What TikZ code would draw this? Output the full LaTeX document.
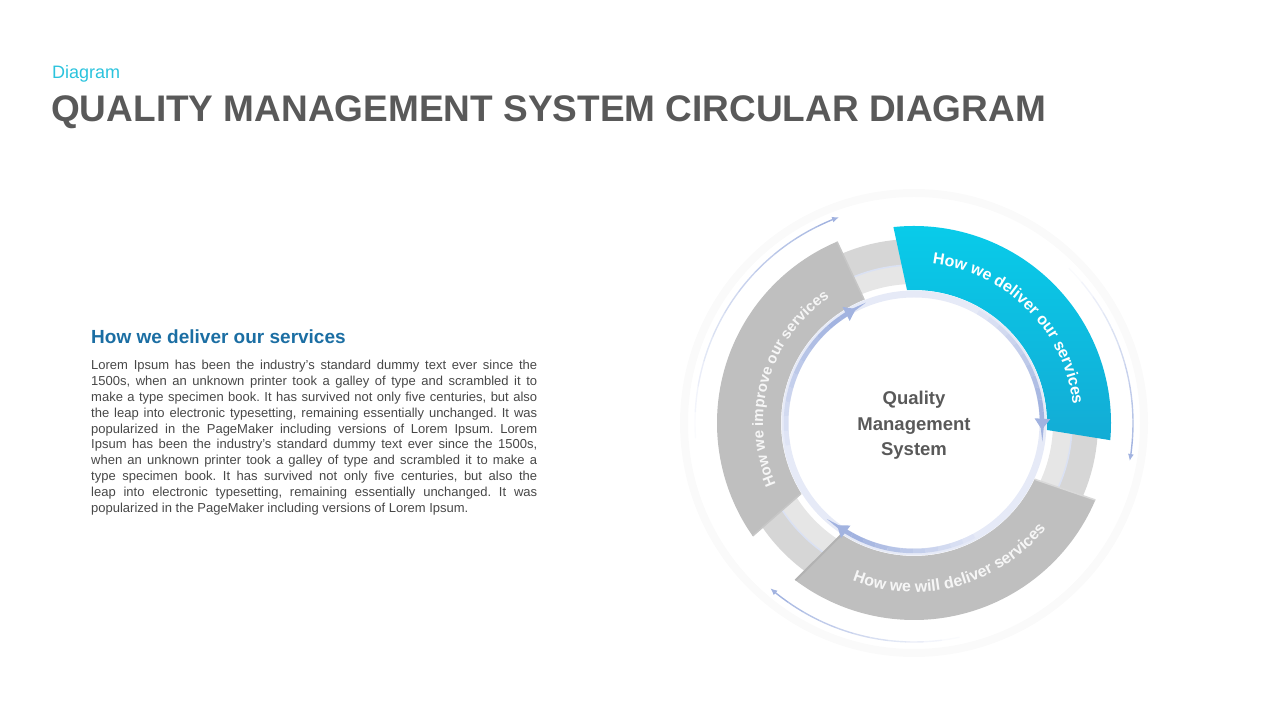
\documentclass[tikz,border=0pt]{standalone}
\usepackage{fontspec}
\setmainfont{Liberation Sans}
\usepackage{tikz}
\usetikzlibrary{arrows.meta,decorations,decorations.text,calc}

\definecolor{titlegray}{HTML}{595959}
\definecolor{subcyan}{HTML}{2BC3DD}
\definecolor{headblue}{HTML}{1B6EA3}
\definecolor{bodygray}{HTML}{474747}
\definecolor{cyantop}{HTML}{08CCEA}
\definecolor{cyanbot}{HTML}{13ACD5}
\definecolor{seggray}{HTML}{BFBFBF}
\definecolor{banddark}{HTML}{D6D6D6}
\definecolor{bandlight}{HTML}{E6E6E6}
\definecolor{lav}{HTML}{A2B3E0}
\definecolor{lavpale}{HTML}{E6EAF7}

\newcommand{\jline}[1]{\hbox to \hsize{#1}}

\begin{document}
\begin{tikzpicture}[x=1pt,y=1pt,
    segtext/.style n args={3}{decorate,decoration={text along path,text align=center,
      text={|\fontsize{#1}{#1}\selectfont\bfseries\color{#2}|#3}}},
  ]
  \useasboundingbox (0,0) rectangle (1280,720);

  % header
  \node[anchor=base west,inner sep=0,text=subcyan,font=\fontsize{18}{18}\selectfont] (kicker) at (52,641.7) {Diagram};
  \node[anchor=base west,inner sep=0,text=titlegray,font=\fontsize{37}{37}\selectfont\bfseries] (title) at (51,598.3) {QUALITY MANAGEMENT SYSTEM CIRCULAR DIAGRAM};

  % text column
  \node[anchor=base west,inner sep=0,text=headblue,font=\fontsize{19}{19}\selectfont\bfseries] (head) at (91,376.7) {How we deliver our services};
  \node[anchor=base west,inner sep=0,text=bodygray] (body) at (91,350.5) {\parbox[t]{446pt}{\fontsize{13}{15.9}\selectfont\frenchspacing
    \jline{Lorem Ipsum has been the industry's standard dummy text ever since the}
    \jline{1500s, when an unknown printer took a galley of type and scrambled it to}
    \jline{make a type specimen book. It has survived not only five centuries, but also}
    \jline{the leap into electronic typesetting, remaining essentially unchanged. It was}
    \jline{popularized in the PageMaker including versions of Lorem Ipsum. Lorem}
    \jline{Ipsum has been the industry's standard dummy text ever since the 1500s,}
    \jline{when an unknown printer took a galley of type and scrambled it to make a}
    \jline{type specimen book. It has survived not only five centuries, but also the}
    \jline{leap into electronic typesetting, remaining essentially unchanged. It was}
    \hbox{popularized in the PageMaker including versions of Lorem Ipsum.}}};

  % cycle
  \coordinate (ctr) at (914,297);
  \def\rout{197}
  \def\rin{133}
  \begin{scope}[shift={(ctr)}]
    \draw[gray!4,line width=8] (0,0) circle[radius=230];
    % band behind the segments
    \fill[banddark,even odd rule] (0,0) circle[radius=184] circle[radius=158];
    \fill[bandlight,even odd rule] (0,0) circle[radius=158] circle[radius=139];
    \draw[lav!40,line width=1.5] (0,0) circle[radius=158];

    % segments
    \path[top color=cyantop,bottom color=cyanbot] (96:\rout) arc[start angle=96,end angle=-5,radius=\rout]
      -- (-3:\rin) arc[start angle=-3,end angle=93,radius=\rin] -- cycle;
    \fill[seggray] (-23:\rout) arc[start angle=-23,end angle=-127,radius=\rout]
      -- (-123:\rin) arc[start angle=-123,end angle=-25,radius=\rin] -- cycle;
    \fill[seggray] (215:\rout) arc[start angle=215,end angle=113,radius=\rout]
      -- (112:\rin) arc[start angle=112,end angle=212,radius=\rin] -- cycle;
    % end faces
    \draw[gray!60,line width=2] (-127:\rout) -- (-123:\rin);
    \draw[gray!45,line width=1.5] (215:\rout) -- (212:\rin);
    \draw[gray!45,line width=1.5] (113:\rout) -- (112:\rin);
    \draw[white!70!gray,line width=1.5] (-23:\rout) -- (-25:\rin);

    \draw[lavpale,line width=7] (0,0) circle[radius=129];

    % inner arrows
    \foreach \a/\b in {190/117,60/-3,-62/-127} {
      \foreach \k in {0,...,9} {
        \pgfmathsetmacro\pa{\a+(\b+8-\a)*\k/10}
        \pgfmathsetmacro\pb{\a+(\b+8-\a)*(\k+1)/10}
        \pgfmathtruncatemacro\pc{10+\k*10}
        \draw[lav!\pc!lavpale,line width=4.5] (\pa:128) arc[start angle=\pa,end angle=\pb,radius=128];
      }
      \draw[lav,line width=4.5,-{Triangle[width=15pt,length=11pt]}] (\b+8:128) arc[start angle=\b+8,end angle=\b,radius=128];
    }

    % outer arrows
    \foreach \a/\b in {184/110,45/-10,-78/-131} {
      \foreach \k in {0,...,9} {
        \pgfmathsetmacro\pa{\a+(\b+6-\a)*\k/10}
        \pgfmathsetmacro\pb{\a+(\b+6-\a)*(\k+1)/10}
        \pgfmathtruncatemacro\pc{5+\k*9}
        \draw[lav!\pc!white,line width=1.4] (\pa:219) arc[start angle=\pa,end angle=\pb,radius=219];
      }
      \draw[lav,line width=1.4,-{Latex[width=6pt,length=7pt]}] (\b+6:219) arc[start angle=\b+6,end angle=\b,radius=219];
    }

    % labels on the segments
    \path[segtext={16}{white}{How we deliver our services}] (95:160) arc[start angle=95,end angle=-5,radius=160];
    \path[segtext={15}{white!93!gray}{How we improve our services}] (214:151) arc[start angle=214,end angle=114,radius=151];
    \path[segtext={16}{white!93!gray}{How we will deliver services}] (-125:169) arc[start angle=-125,end angle=-25,radius=169];
  \end{scope}

  \node[align=center,inner sep=0,text=titlegray,font=\fontsize{18.5}{25.5}\selectfont\bfseries] (qms) at (914,294.3) {Quality\\Management\\System};
\end{tikzpicture}
\end{document}
